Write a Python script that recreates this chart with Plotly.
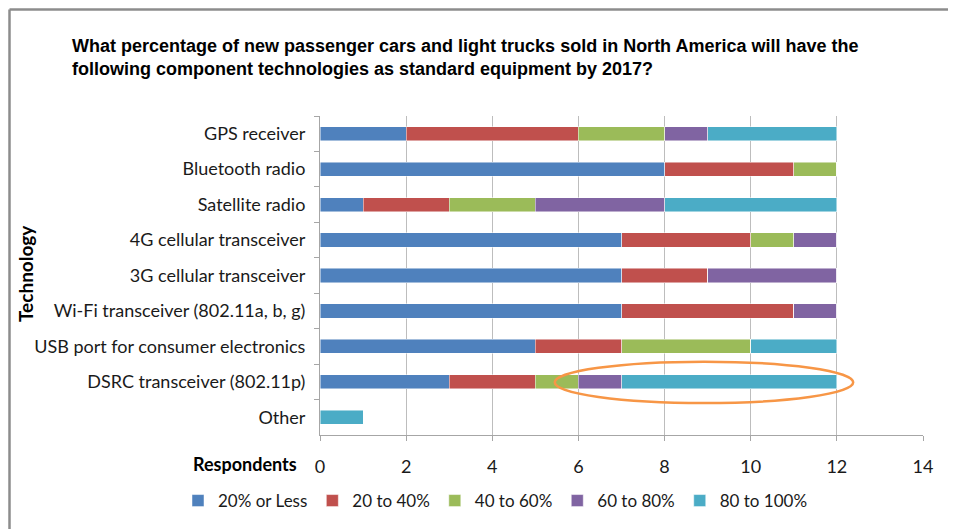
import plotly.graph_objects as go

categories = ["GPS receiver", "Bluetooth radio", "Satellite radio", "4G cellular transceiver",
              "3G cellular transceiver", "Wi-Fi transceiver (802.11a, b, g)",
              "USB port for consumer electronics", "DSRC transceiver (802.11p)", "Other"]
series_names = ["20% or Less", "20 to 40%", "40 to 60%", "60 to 80%", "80 to 100%"]
s_20_or_less = [2, 8, 1, 7, 7, 7, 5, 3, 0]
s_20_to_40 = [4, 3, 2, 3, 2, 4, 2, 2, 0]
s_40_to_60 = [2, 1, 2, 1, 0, 0, 3, 1, 0]
s_60_to_80 = [1, 0, 3, 1, 3, 1, 0, 1, 0]
s_80_to_100 = [3, 0, 4, 0, 0, 0, 2, 5, 1]
x_ticks = [0, 2, 4, 6, 8, 10, 12, 14]

colors = ["#4F81BD", "#C0504D", "#9BBB59", "#8064A2", "#4BACC6"]
series = [s_20_or_less, s_20_to_40, s_40_to_60, s_60_to_80, s_80_to_100]

fig = go.Figure()
for name, vals, c in zip(series_names, series, colors):
    fig.add_trace(go.Bar(y=categories, x=vals, name=name, orientation="h",
                         marker=dict(color=c, line=dict(color="rgba(255,255,255,0.6)", width=0.8))))

W, H = 956, 529
OFF = 8  # page body margin offset
# plot area in screen pixels: x 320..923, y 116..435
L = 320 - OFF
T = 116 - OFF
R = W - (923 - OFF)
B = H - (435 - OFF)
pw, ph = W - L - R, H - T - B

def px(xs):
    return (xs - OFF - L) / pw

def py(ys):
    return (H - B - (ys - OFF)) / ph

FONT = "Lato, Carlito, Calibri, sans-serif"

fig.update_layout(
    width=W, height=H, barmode="stack", bargap=0.6,
    margin=dict(l=L, r=R, t=T, b=B),
    paper_bgcolor="white", plot_bgcolor="white",
    font=dict(family=FONT, size=18, color="#1a1a1a"),
    showlegend=True,
    legend=dict(orientation="h", x=px(178), xanchor="left", y=py(501), yanchor="middle",
                font=dict(size=17), traceorder="normal", itemwidth=30),
    xaxis=dict(range=[0, 14], tickvals=x_ticks, showgrid=True, gridcolor="#BDBDBD", gridwidth=1,
               showline=True, linecolor="#A6A6A6", ticks="outside", ticklen=5, tickcolor="#A6A6A6",
               ticklabelstandoff=10, zeroline=False),
    yaxis=dict(autorange="reversed", showline=True, linecolor="#A6A6A6", ticks="outside", ticklen=5,
               tickcolor="#A6A6A6", tickson="boundaries", ticklabelstandoff=10, showgrid=False),
)

annotations = [
    dict(text="<b>What percentage of new passenger cars and light trucks sold in North America will have the<br>"
              "following component technologies as standard equipment by 2017?</b>",
         xref="paper", yref="paper", x=px(70), y=py(34), xanchor="left", yanchor="top", align="left",
         showarrow=False, font=dict(family="Liberation Sans, Arial, sans-serif", size=18, color="black")),
    dict(text="<b>Technology</b>", xref="paper", yref="paper", x=px(25), y=py(274), textangle=-90,
         showarrow=False, xanchor="center", yanchor="middle", font=dict(size=19, color="black")),
    dict(text="<b>Respondents</b>", xref="paper", yref="paper", x=px(299), y=py(464), xanchor="right",
         yanchor="middle", showarrow=False, font=dict(size=18, color="black")),
]
fig.update_layout(annotations=annotations)

shapes = [
    dict(type="circle", xref="x", yref="y", x0=5.45, x1=12.38, y0=7 - 0.57, y1=7 + 0.6,
         line=dict(color="#F79646", width=2.5)),
    dict(type="line", xref="paper", yref="paper", x0=px(9.5), x1=px(9.5), y0=py(9.5), y1=py(540),
         line=dict(color="#8C8C8C", width=2.5)),
    dict(type="line", xref="paper", yref="paper", x0=px(9.5), x1=px(970), y0=py(9.5), y1=py(9.5),
         line=dict(color="#8C8C8C", width=2.5)),
]
fig.update_layout(shapes=shapes)

fig.write_html("out.html")
